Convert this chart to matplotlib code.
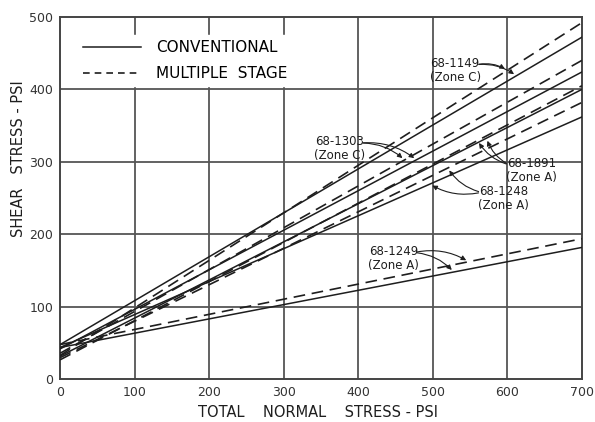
import numpy as np
import matplotlib.pyplot as plt
from matplotlib.lines import Line2D

# shear strength envelopes: intercept at 0 psi and value at 700 psi
samples = ["68-1149", "68-1303", "68-1891", "68-1248", "68-1249"]
zones = ["Zone C", "Zone C", "Zone A", "Zone A", "Zone A"]
conv_start = [48, 42, 32, 44, 44]
conv_end = [472, 424, 400, 362, 182]
mult_start = [33, 36, 27, 30, 48]
mult_end = [492, 440, 405, 382, 194]

x_ends = [0, 700]
xticks = [0, 100, 200, 300, 400, 500, 600, 700]
yticks = [0, 100, 200, 300, 400, 500]

ink = "#1e1e1e"
gridc = "#555555"

fig = plt.figure(figsize=(5.95, 4.22), dpi=100)
ax = fig.add_axes([0.101, 0.101, 0.877, 0.859])

for v in xticks[1:-1]:
    ax.axvline(v, color=gridc, lw=1.3, zorder=1)
for v in yticks[1:-1]:
    ax.axhline(v, color=gridc, lw=1.3, zorder=1)

for i in range(len(samples)):
    ax.plot(x_ends, [conv_start[i], conv_end[i]], color=ink, lw=1.1, zorder=3)
    ax.plot(x_ends, [mult_start[i], mult_end[i]], color=ink, lw=1.2,
            dashes=(7, 4), zorder=3)

def on_line(i, x, multi):
    a, b = (mult_start[i], mult_end[i]) if multi else (conv_start[i], conv_end[i])
    return a + (b - a) * x / 700

# label text position and arrow target x for (multiple, conventional)
labels = [
    ((530, 426), (600, 612), "right"),
    ((375, 318), (462, 478), "right"),
    ((632, 288), (560, 572), "left"),
    ((595, 250), (520, 496), "left"),
    ((447, 167), (548, 528), "right"),
]
for i, (txt, tx, ha) in enumerate(labels):
    s = f"{samples[i]}\n({zones[i]})"
    ax.text(txt[0], txt[1], s, ha="center", va="center", fontsize=8.5,
            color=ink, linespacing=1.1, zorder=5)
    sx = txt[0] + (28 if ha == "right" else -30)
    sy = txt[1] + 8
    for k, multi in enumerate([True, False]):
        px = tx[k]
        ax.annotate("", xy=(px, on_line(i, px, multi)), xytext=(sx, sy),
                    arrowprops=dict(arrowstyle="-|>", color=ink, lw=0.8,
                                    mutation_scale=7,
                                    connectionstyle="arc3,rad=-0.2"),
                    zorder=5)

handles = [Line2D([], [], color=ink, lw=1.1),
           Line2D([], [], color=ink, lw=1.2, dashes=(4, 3))]
leg = ax.legend(handles, ["CONVENTIONAL", "MULTIPLE  STAGE"], loc="upper left",
                bbox_to_anchor=(0.02, 0.97), frameon=True, fancybox=False,
                edgecolor="white", facecolor="white", framealpha=1,
                handlelength=3.8, handletextpad=1.0, labelspacing=0.75,
                fontsize=11, borderpad=0.3)
leg.set_zorder(4)

ax.set_xlim(0, 700)
ax.set_ylim(0, 500)
ax.set_xticks(xticks)
ax.set_yticks(yticks)
ax.tick_params(length=0, labelsize=9, colors="#333333", pad=5)
for sp in ax.spines.values():
    sp.set_color("#444444")
    sp.set_linewidth(1.4)

ax.set_xlabel("TOTAL    NORMAL    STRESS - PSI", fontsize=10.5, color=ink)
ax.set_ylabel("SHEAR   STRESS - PSI", fontsize=10.5, color=ink)
ax.xaxis.set_label_coords(0.495, -0.07)
ax.yaxis.set_label_coords(-0.066, 0.61)

fig.savefig("out.png", dpi=100)
